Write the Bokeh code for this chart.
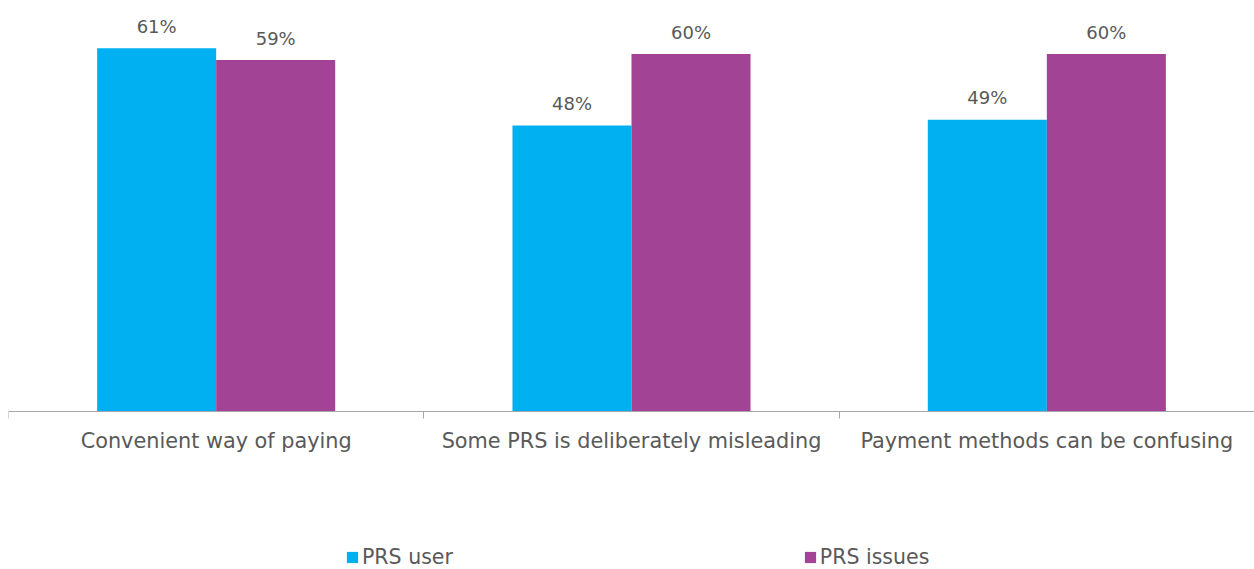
from bokeh.plotting import figure
from bokeh.models import (ColumnDataSource, Range1d, LinearAxis,
                          FixedTicker, Legend, LegendItem)
from bokeh.transform import dodge
from bokeh.core.properties import value
from bokeh.embed import file_html
from bokeh.resources import INLINE

categories = ["Convenient way of paying", "Some PRS is deliberately misleading",
              "Payment methods can be confusing"]
prs_user = [61, 48, 49]
prs_issues = [59, 60, 60]
series_names = ["PRS user", "PRS issues"]
colors = ["#00B0F0", "#A34395"]

n = len(categories)
centers = [i + 0.5 for i in range(n)]
src = ColumnDataSource(dict(
    xc=centers,
    user=prs_user,
    issues=prs_issues,
    user_lbl=[f"{v}%" for v in prs_user],
    issues_lbl=[f"{v}%" for v in prs_issues],
))

# frame spans the full height; the value axis sits at 0 and the space below
# it holds the category labels and the legend
p = figure(width=1254, height=569, x_range=Range1d(0, n),
           y_range=Range1d(-26.53, 67.66), output_backend="svg", toolbar_location=None,
           x_axis_location=None, y_axis_location=None,
           min_border_left=8, min_border_right=0, min_border_top=8, min_border_bottom=0)
p.outline_line_color = None
p.xgrid.visible = False
p.ygrid.visible = False
p.background_fill_color = "white"
p.border_fill_color = "white"

ticker = FixedTicker(ticks=centers, minor_ticks=list(range(n + 1)))
ax = LinearAxis(ticker=ticker, fixed_location=0)
ax.major_label_overrides = {c: lab for c, lab in zip(centers, categories)}
ax.major_tick_out = 0
ax.major_tick_in = 0
ax.minor_tick_out = 7
ax.minor_tick_in = 0
ax.minor_tick_line_color = "#A6A6A6"
ax.axis_line_color = "#A6A6A6"
ax.axis_line_width = 1
ax.major_label_standoff = 11
ax.major_label_text_font = "DejaVu Sans"
ax.major_label_text_font_size = "20.8px"
ax.major_label_text_color = "#595959"
p.add_layout(ax, "below")

bw = 0.2866
off = 0.1433
r1 = p.vbar(x=dodge("xc", -off), top="user", width=bw, bottom=0,
            source=src, fill_color=colors[0], line_color=None)
r2 = p.vbar(x=dodge("xc", off), top="issues", width=bw, bottom=0,
            source=src, fill_color=colors[1], line_color=None)

for col, lbl, o in (("user", "user_lbl", -off), ("issues", "issues_lbl", off)):
    p.text(x=dodge("xc", o), y=col, text=lbl, source=src,
           text_align="center", text_baseline="middle", y_offset=-22,
           text_font=value("DejaVu Sans"), text_font_size="18px", text_color="#595959")

legend = Legend(items=[LegendItem(label=series_names[0], renderers=[r1]),
                       LegendItem(label=series_names[1], renderers=[r2])],
                orientation="horizontal", location=(337, 0),
                glyph_width=14, glyph_height=14, label_standoff=3, spacing=350,
                padding=0, margin=0, border_line_color=None, background_fill_alpha=0,
                label_text_font="DejaVu Sans", label_text_font_size="20.5px",
                label_text_color="#595959")
p.add_layout(legend)

open("out.html", "w").write(file_html(p, INLINE))
